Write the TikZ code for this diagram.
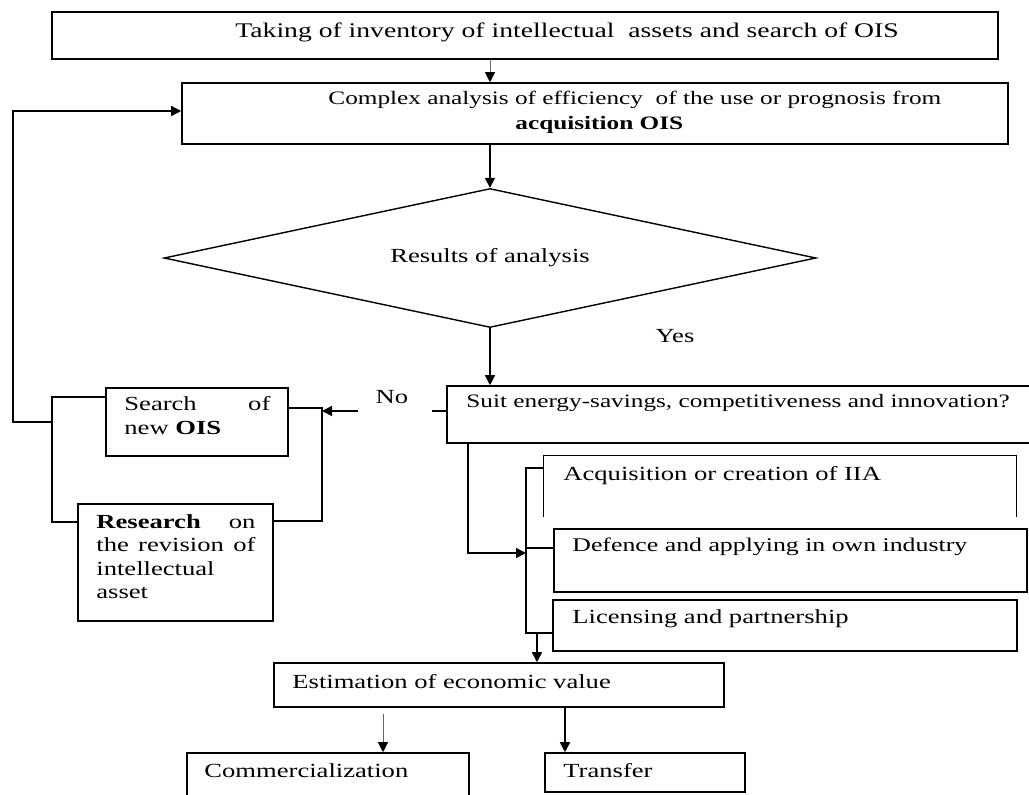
\documentclass[tikz,border=0pt]{standalone}
\usepackage{fontspec}
\setmainfont{Liberation Serif}[FakeStretch=1.33]
\usetikzlibrary{arrows.meta,shapes.geometric,fit,calc}
\begin{document}
\begin{tikzpicture}[x=0.5pt,y=-0.5pt,
  box/.style={draw, line width=0.8pt, inner sep=0pt},
  lbl/.style={inner sep=0pt, anchor=mid west, font=\fontsize{10pt}{12pt}\selectfont},
  small/.style={font=\fontsize{9.5pt}{11.5pt}\selectfont},
  wire/.style={line width=0.8pt},
  arr/.style={wire, -{Triangle[length=5pt,width=5pt]}},
  thinarr/.style={line width=0.5pt, draw=black!60, -{Triangle[length=5pt,width=5pt,black]}},
]
\useasboundingbox (0,0) rectangle (1029,794);
\fill[white] (0,0) rectangle (1029,794);
\clip (0,0) rectangle (1029,794);

% boxes
\node[box, fit={(52,12) (998,59)}] (take) {};
\node[box, fit={(182,83) (1008,144)}] (comp) {};
\node[draw, diamond, line width=0.7pt, shape aspect=4.7, minimum width=326pt,
      minimum height=69.5pt, inner sep=0pt,
      font=\fontsize{10pt}{12pt}\selectfont] (dia) at (490,258) {Results of analysis};
\node[box, fit={(447,386) (1040,443)}] (suit) {};
\node[box, fit={(106,388) (288,456)}] (search) {};
\node[box, fit={(78,504) (273,621)}] (research) {};
\node[inner sep=0pt, fit={(544,456) (1016,517)}] (acq) {};
\draw[wire] (acq.south west) -- (acq.north west) -- (acq.north east) -- (acq.south east);
\node[box, fit={(554,529) (1027,592)}] (def) {};
\node[box, fit={(553,600) (1017,651)}] (lic) {};
\node[box, fit={(274,663) (724,707)}] (est) {};
\node[box, fit={(187,753) (469,810)}] (comm) {};
\node[box, fit={(545,753) (745,792)}] (tr) {};

% texts
\node[lbl, font=\fontsize{10.4pt}{12pt}\selectfont] (t-take) at (235,33)
  {Taking of inventory of intellectual\ \ assets and search of OIS};
\node[lbl, small] (t-comp1) at (328,100) {Complex analysis of efficiency\ \ of the use or prognosis from};
\node[lbl, small] (t-comp2) at (515,125) {\textbf{acquisition OIS}};
\node[lbl, anchor=mid] (yes) at (675,338) {Yes};
\node[lbl, anchor=mid] (no) at (392,399) {No};
\node[lbl, small] (t-suit) at (466,403) {Suit energy-savings, competitiveness and innovation?};
\node[lbl, anchor=north west, text width=73pt, align=left] (t-search) at (124,396)
  {Search\hfill of\\new \textbf{OIS}};
\node[lbl, anchor=north west, text width=79.5pt, align=left,
      font=\fontsize{10pt}{11.7pt}\selectfont] (t-research) at (96,514)
  {\textbf{Research}\hfill on\\the\hfill revision\hfill of\\intellectual\\asset};
\node[lbl] (t-acq) at (563,476) {Acquisition or creation of IIA};
\node[lbl, font=\fontsize{9.7pt}{12pt}\selectfont] (t-def) at (572,547)
  {Defence and applying in own industry};
\node[lbl] (t-lic) at (572,619) {Licensing and partnership};
\node[lbl] (t-est) at (292,684) {Estimation of economic value};
\node[lbl] (t-comm) at (204,773) {Commercialization};
\node[lbl] (t-tr) at (563,773) {Transfer};

% main flow
\draw[thinarr] (take.south -| dia.north) -- (comp.north -| dia.north);
\draw[arr] (comp.south -| dia.north) -- (dia.north);
\draw[arr] (dia.south) -- (suit.north -| dia.south);

% "No" branch
\coordinate (rtop) at (322,408);
\coordinate (rbot) at (322,521);
\coordinate (nj) at (322,411);
\draw[wire] (search.east |- rtop) -- (rtop) -- (rbot) -- (research.east |- rbot);
\draw[arr] (suit.west |- nj) -- node[pos=0.41, fill=white, minimum width=37pt,
  minimum height=3pt, inner sep=0pt] {} (nj);

% feedback loop to the analysis
\coordinate (fbtop) at (13,111);
\coordinate (fbbot) at (13,422);
\coordinate (lmid) at (52,422);
\coordinate (ltop) at (52,397);
\coordinate (lbot) at (52,522);
\draw[wire] (search.west |- ltop) -- (ltop) -- (lbot) -- (research.west |- lbot);
\draw[arr] (lmid) -- (fbbot) -- (fbtop) -- (comp.west |- fbtop);

% "Yes" branch
\coordinate (sj) at (468,553);
\coordinate (btop) at (526,468);
\coordinate (bmid) at (526,553);
\coordinate (bdef) at (526,548);
\coordinate (bbot) at (526,633);
\coordinate (ej) at (537,633);
\draw[arr] (suit.south -| sj) -- (sj) -- (bmid);
\draw[wire] (acq.west |- btop) -- (btop) -- (bbot) -- (lic.west |- bbot);
\draw[wire] (bdef) -- (def.west |- bdef);
\draw[arr] (ej) -- (est.north -| ej);

% outcomes
\coordinate (cx) at (383,0);
\coordinate (tx) at (565,0);
\draw[thinarr] ($(est.south -| cx)+(0,6)$) -- (comm.north -| cx);
\draw[arr] (est.south -| tx) -- (tr.north -| tx);
\end{tikzpicture}
\end{document}
